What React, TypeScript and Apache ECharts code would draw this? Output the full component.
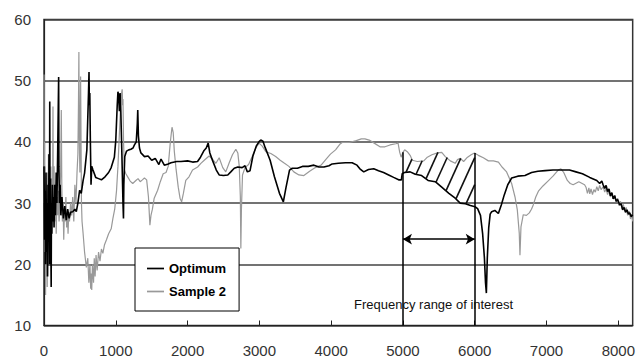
import React, { useEffect, useRef } from "react";
import * as echarts from "echarts";

// Frequency (Hz) vs level
const optimum: [number, number][] = [
  [0, 36], [8, 24], [15, 32], [22, 20], [28, 35], [35, 22], [42, 30], [50, 18], [56, 33], [62, 24],
  [70, 38], [76, 20], [80, 46.6], [84, 28], [90, 34], [96, 22], [100, 16.3], [104, 30], [110, 25],
  [118, 33], [125, 27], [132, 31], [140, 26], [150, 33], [160, 28], [170, 35], [180, 30], [190, 38],
  [198, 45], [204, 50.6], [208, 36], [215, 30], [225, 33], [235, 28], [250, 31], [270, 27.5],
  [290, 29.5], [310, 27.2], [330, 29], [350, 27.5], [370, 28.5], [400, 28.6], [430, 29], [450, 28.6],
  [472, 30], [496, 32.1], [519, 31.6], [545, 33.7], [565, 34.9], [597, 38.7], [610, 44], [620, 48],
  [627, 51.4], [632, 46], [638, 48], [646, 40], [655, 33], [665, 36], [680, 35.5], [720, 34.2],
  [760, 34], [800, 33.8], [850, 34.3], [900, 35], [936, 35.8], [980, 37.5], [1000, 40.3], [1020, 46],
  [1030, 48.2], [1040, 47.5], [1050, 45], [1060, 48], [1070, 45], [1085, 38], [1100, 30], [1107, 27.5],
  [1112, 33], [1125, 37.6], [1150, 38.5], [1180, 38.7], [1210, 38.8], [1240, 39], [1260, 39.5],
  [1285, 40], [1300, 43], [1306, 45.2], [1315, 41], [1330, 39], [1350, 38.2], [1400, 37.6],
  [1450, 37.7], [1500, 37.0], [1550, 37.3], [1600, 36.3], [1630, 37.2], [1676, 36.2], [1730, 36.4],
  [1769, 36.6], [1850, 36.8], [1908, 36.8], [2000, 36.9], [2070, 36.7], [2139, 36.8], [2180, 37.5],
  [2230, 38.6], [2260, 39], [2287, 39.8], [2310, 38.2], [2350, 36.9], [2400, 35.4], [2440, 34.6],
  [2500, 34.5], [2560, 34.6], [2602, 35.1], [2650, 35.7], [2700, 35.9], [2760, 35.8], [2800, 36.1],
  [2833, 35.1], [2870, 35.3], [2910, 37.7], [2960, 39.4], [3000, 40.1], [3019, 40.3], [3050, 40.1],
  [3080, 39.1], [3150, 37.0], [3210, 34.3], [3280, 31.6], [3334, 30.2], [3370, 32.5], [3420, 35.4],
  [3458, 35.7], [3530, 35.7], [3600, 36.0], [3680, 36.0], [3760, 36.2], [3830, 35.9], [3899, 35.9],
  [3970, 36.1], [4014, 36.4], [4100, 36.5], [4200, 36.6], [4292, 36.6], [4360, 36.2], [4400, 35.6],
  [4454, 35.1], [4520, 35.5], [4593, 35.6], [4660, 35.3], [4730, 35.0], [4801, 34.6], [4870, 34.2],
  [4940, 33.8], [4978, 33.8], [4990, 34.8], [5020, 35.0], [5100, 35.1], [5172, 34.7], [5260, 34.5],
  [5350, 33.7], [5450, 33.5], [5540, 32.6], [5640, 31.6], [5728, 30.8], [5797, 30.0], [5870, 29.9],
  [5940, 29.6], [6004, 29.4], [6040, 29.1], [6080, 28.0], [6110, 25], [6135, 21], [6150, 17],
  [6162, 15.3], [6175, 21], [6195, 26], [6215, 28.2], [6236, 28.6], [6280, 28.8], [6329, 28.3],
  [6370, 29.7], [6410, 31.3], [6460, 33.0], [6514, 34.1], [6600, 34.4], [6700, 34.5], [6792, 35.0],
  [6880, 35.2], [6980, 35.3], [7090, 35.4], [7185, 35.4], [7320, 35.4], [7410, 35.1], [7500, 34.8],
  [7602, 34.2], [7700, 33.7], [7740, 33.2], [7770, 33.6], [7788, 33.0], [7810, 32.4], [7830, 32.9],
  [7850, 31.9], [7870, 32.3], [7890, 31.2], [7910, 31.7], [7930, 30.7], [7950, 31.2], [7970, 30.3],
  [7990, 30.6], [8019, 29.7], [8040, 29.9], [8060, 28.9], [8080, 29.3], [8100, 28.5], [8120, 28.9],
  [8140, 28.2], [8158, 28.4], [8180, 27.8], [8200, 28.1],
];

const sample2: [number, number][] = [
  [0, 51], [3, 30], [8, 40], [12, 22], [17, 36], [22, 15], [27, 33], [32, 18], [38, 28], [45, 16.3],
  [52, 35], [58, 24], [62, 38], [66, 28], [72, 34], [78, 22], [84, 30], [90, 26], [96, 36], [102, 26],
  [110, 34], [118, 28], [125, 45.8], [130, 30], [140, 36], [150, 27], [160, 33], [170, 25], [180, 31],
  [190, 28], [200, 32], [210, 27], [220, 30], [232, 35], [241, 45.2], [248, 33], [256, 27], [265, 30],
  [275, 24], [285, 29], [295, 27], [305, 31], [315, 26], [325, 29], [335, 25], [345, 28.5], [355, 27],
  [370, 30], [385, 28], [400, 31], [415, 27], [430, 33], [445, 30], [460, 35], [472, 38], [480, 46],
  [486, 54.7], [492, 40], [500, 35], [505, 44], [510, 50.7], [515, 42], [522, 30], [530, 27],
  [545, 25], [565, 22], [590, 19.5], [610, 21], [625, 17], [640, 20], [650, 16], [658, 18.5],
  [665, 15.8], [675, 20], [690, 17], [700, 21], [712, 18], [725, 21.5], [740, 19], [760, 22],
  [780, 20.5], [800, 22.5], [820, 21.8], [843, 23.2], [870, 24], [900, 25], [936, 25.8], [960, 27.5],
  [985, 29], [1010, 32], [1030, 36], [1045, 40], [1060, 44], [1075, 47.5], [1089, 48.6], [1095, 46],
  [1100, 47], [1108, 40], [1121, 35.4], [1140, 34.8], [1170, 34.2], [1200, 33.6], [1236, 33.2],
  [1280, 33.7], [1310, 34.0], [1340, 33.5], [1370, 33.8], [1399, 34.1], [1430, 33.8], [1455, 31],
  [1475, 26.4], [1490, 28], [1510, 29], [1535, 30.8], [1583, 32.1], [1620, 33.5], [1660, 34.8],
  [1700, 35.0], [1730, 36], [1760, 40], [1783, 42.4], [1800, 41.5], [1815, 38.5], [1840, 35.5],
  [1870, 32.6], [1895, 30.8], [1917, 30.2], [1940, 31.5], [1975, 33.7], [2020, 34.3], [2069, 35.4],
  [2140, 35.9], [2185, 36.5], [2232, 37.0], [2300, 37.7], [2345, 37.2], [2395, 36.5], [2440, 37.4],
  [2490, 35.8], [2532, 35.1], [2580, 36.6], [2625, 37.9], [2672, 38.8], [2700, 38.2], [2720, 36],
  [2735, 31], [2742, 22.6], [2750, 29], [2765, 34.6], [2800, 35.8], [2850, 36.3], [2900, 37.6],
  [2950, 39.0], [2996, 39.8], [3040, 39.3], [3090, 38.4], [3160, 38.1], [3227, 37.6], [3290, 37.0],
  [3350, 36.5], [3412, 36.0], [3480, 35.1], [3551, 34.6], [3620, 34.5], [3700, 35.2], [3780, 35.8],
  [3860, 36.2], [3930, 37.2], [3990, 38.0], [4061, 38.7], [4120, 39.6], [4153, 39.9], [4250, 39.9],
  [4350, 40.2], [4420, 40.5], [4470, 40.5], [4530, 40.3], [4600, 39.8], [4680, 39.2], [4750, 39.2],
  [4820, 39.5], [4900, 39.7], [4932, 39.8], [4955, 38.3], [4975, 37.5], [5000, 38.3], [5024, 38.7],
  [5060, 38.4], [5100, 37.8], [5130, 37.0], [5200, 36.8], [5290, 36.9], [5340, 37.5], [5403, 37.9],
  [5480, 38.2], [5540, 38.3], [5590, 37.6], [5660, 36.9], [5728, 36.5], [5760, 37.1], [5800, 37.3],
  [5845, 36.8], [5890, 37.4], [5950, 37.9], [5996, 38.2], [6050, 37.8], [6120, 37.4], [6190, 36.9],
  [6260, 36.9], [6330, 36.7], [6380, 35.9], [6444, 35.1], [6514, 33.2], [6561, 31.0], [6593, 28.9],
  [6620, 25.1], [6630, 21.5], [6644, 26.1], [6676, 28.1], [6720, 28.0], [6760, 28.4], [6790, 29.0],
  [6815, 29.7], [6850, 31.0], [6890, 32.0], [6950, 32.8], [7020, 33.6], [7090, 34.4], [7163, 35.4],
  [7200, 35.6], [7240, 35.0], [7290, 33.7], [7330, 33.2], [7371, 33.0], [7450, 33.5], [7530, 33.0],
  [7550, 32.6], [7570, 31.6], [7590, 32.5], [7602, 31.5], [7620, 32.3], [7640, 31.4], [7660, 32.2],
  [7680, 31.8], [7700, 32.7], [7720, 32.0], [7740, 32.9], [7760, 32.2], [7790, 32.7], [7810, 31.8],
  [7830, 32.4], [7850, 31.4], [7870, 32.0], [7890, 31.0], [7910, 31.6], [7926, 30.7], [7950, 31.3],
  [7970, 30.2], [7990, 30.8], [8010, 29.6], [8030, 30.3], [8050, 29.1], [8070, 29.8], [8090, 28.7],
  [8110, 29.3], [8130, 28.0], [8150, 28.7], [8170, 27.4], [8185, 28.2], [8200, 27.0],
];

const seriesNames = ["Optimum", "Sample 2"];
const rangeOfInterest = [5000, 6000];
const arrowLevel = 24.1;
const annotationText = "Frequency range of interest";
const annotationAt: [number, number] = [5426, 13.5];
const xTicks = { min: 0, max: 8200, interval: 1000 };
const yTicks = { min: 10, max: 60, interval: 10 };

function interp(arr: [number, number][], x: number): number {
  for (let i = 1; i < arr.length; i++) {
    if (arr[i][0] >= x) {
      const [x0, y0] = arr[i - 1];
      const [x1, y1] = arr[i];
      return y0 + ((y1 - y0) * (x - x0)) / (x1 - x0 || 1);
    }
  }
  return arr[arr.length - 1][1];
}

export default function App() {
  const ref = useRef<HTMLDivElement>(null);
  useEffect(() => {
    if (!ref.current) return;
    const chart = echarts.init(ref.current, undefined, { renderer: "svg" });
    const [r0, r1] = rangeOfInterest;

    const hatchRender = (params: any, api: any) => {
      const pA = api.coord([r0, 10]);
      const pB = api.coord([r1, 10]);
      const toF = (px: number) => r0 + ((px - pA[0]) / (pB[0] - pA[0])) * (r1 - r0);
      const lowY = (px: number) => api.coord([toF(px), interp(optimum, toF(px))])[1];
      const upY = (px: number) => api.coord([toF(px), interp(sample2, toF(px))])[1];
      const children: any[] = [];
      const slope = 2.2;
      const step = 10;
      for (let xb = pA[0] + 3; xb < pB[0]; xb += step) {
        const yb = lowY(xb);
        let t = 0;
        let x = xb;
        let y = yb;
        while (t < 60) {
          x = xb + t;
          y = yb - slope * t;
          if (x >= pB[0]) {
            x = pB[0];
            y = yb - slope * (x - xb);
            break;
          }
          if (y <= upY(x)) break;
          t += 0.25;
        }
        children.push({
          type: "line",
          shape: { x1: xb, y1: yb, x2: x, y2: y },
          style: { stroke: "#111", lineWidth: 1.6 },
        });
      }
      return { type: "group", children };
    };

    const topAt = (f: number) => interp(sample2, f);
    const lineIcon = "path://M0,0H20V2H0Z";

    chart.setOption({
      animation: false,
      grid: {
        left: 44,
        right: 3,
        top: 19.5,
        bottom: 34.5,
        show: true,
        borderColor: "#333",
        borderWidth: 1.5,
      },
      legend: {
        data: seriesNames.map((n) => ({ name: n, icon: lineIcon })),
        orient: "vertical",
        left: 135,
        top: 248,
        padding: [14, 13, 13, 12],
        itemGap: 10,
        itemWidth: 17,
        itemHeight: 14,
        borderColor: "#000",
        borderWidth: 1,
        backgroundColor: "#fff",
        selectedMode: false,
        textStyle: {
          fontFamily: "Liberation Sans, Arial, sans-serif",
          fontWeight: "bold",
          fontSize: 13,
          color: "#000",
        },
      },
      xAxis: {
        type: "value",
        min: xTicks.min,
        max: xTicks.max,
        interval: xTicks.interval,
        axisLine: { show: true, lineStyle: { color: "#222", width: 1.2 } },
        axisTick: { show: true, inside: true, length: 5, lineStyle: { color: "#222" } },
        splitLine: { show: false },
        axisLabel: {
          showMaxLabel: false,
          formatter: (v: number) => String(v),
          margin: 17,
          color: "#333",
          fontSize: 15,
          fontFamily: "Liberation Sans, Arial, sans-serif",
        },
      },
      yAxis: {
        type: "value",
        min: yTicks.min,
        max: yTicks.max,
        interval: yTicks.interval,
        axisLine: { show: true, lineStyle: { color: "#222", width: 1.2 } },
        axisTick: { show: false },
        splitLine: { show: true, lineStyle: { color: "#444", width: 1.5 } },
        axisLabel: {
          margin: 13,
          color: "#333",
          fontSize: 15,
          fontFamily: "Liberation Sans, Arial, sans-serif",
        },
      },
      series: [
        {
          name: "Sample 2",
          type: "line",
          data: sample2,
          showSymbol: false,
          symbol: "none",
          lineStyle: { color: "#999", width: 1.2 },
          itemStyle: { color: "#999" },
          z: 2,
        },
        {
          name: "Optimum",
          type: "line",
          data: optimum,
          showSymbol: false,
          symbol: "none",
          lineStyle: { color: "#000", width: 1.6 },
          itemStyle: { color: "#000" },
          z: 3,
        },
        {
          name: "hatch",
          type: "custom",
          data: [[r0, 30]],
          renderItem: hatchRender,
          z: 4,
          silent: true,
        },
        {
          name: "annotations",
          type: "line",
          data: [],
          z: 5,
          silent: true,
          markLine: {
            silent: true,
            symbol: ["none", "none"],
            label: { show: false },
            lineStyle: { color: "#000", width: 1.5, type: "solid" },
            data: [
              [{ coord: [r0, yTicks.min] }, { coord: [r0, topAt(r0)] }],
              [{ coord: [r1, yTicks.min] }, { coord: [r1, topAt(r1)] }],
              [
                { coord: [r0, arrowLevel], symbol: "arrow", symbolSize: [8, 9] },
                { coord: [r1, arrowLevel], symbol: "arrow", symbolSize: [8, 9] },
              ],
            ],
          },
          markPoint: {
            silent: true,
            symbol: "circle",
            symbolSize: 0,
            data: [{ coord: annotationAt }],
            label: {
              show: true,
              position: "inside",
              formatter: annotationText,
              color: "#111",
              fontSize: 13,
              fontFamily: "Liberation Sans, Arial, sans-serif",
            },
          },
        },
      ],
    });
    return () => chart.dispose();
  }, []);
  return (
    <div
      ref={ref}
      style={{ position: "fixed", left: 0, top: 0, width: 638, height: 360, background: "#fff" }}
    />
  );
}
